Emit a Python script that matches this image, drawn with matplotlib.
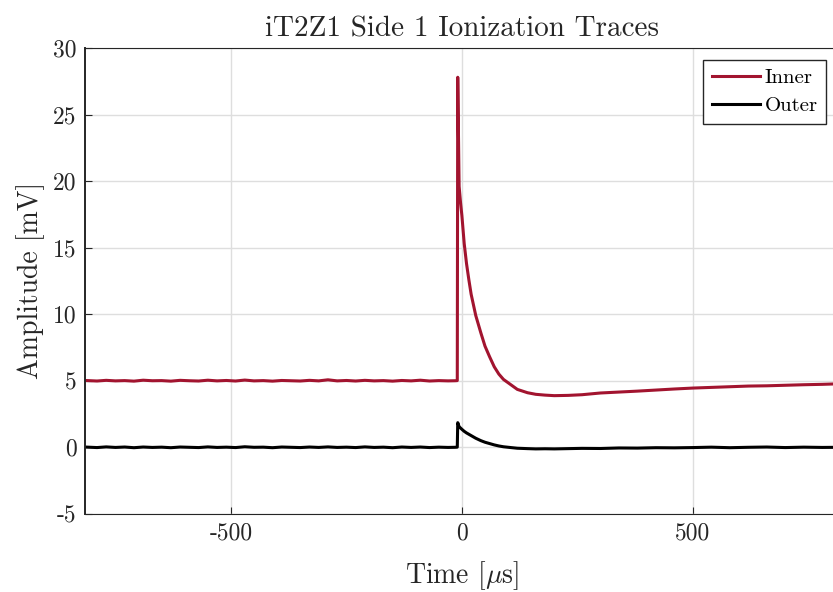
import matplotlib
matplotlib.use("Agg")
import matplotlib.pyplot as plt

plt.rcParams["font.family"] = "serif"
plt.rcParams["font.serif"] = ["cmr10"]
plt.rcParams["mathtext.fontset"] = "cm"
plt.rcParams["axes.unicode_minus"] = False

# === Trace data (time in us, amplitude in mV) ===
t = [-816, -790, -770, -750, -730, -710, -690, -670, -650, -630, -610, -590,
     -570, -550, -530, -510, -490, -470, -450, -430, -410, -390, -370, -350,
     -330, -310, -290, -270, -250, -230, -210, -190, -170, -150, -130, -110,
     -90, -70, -50, -30, -15, -10, -9, -6, -3, 0, 5, 10, 15, 20, 30, 41, 50,
     60, 70, 80, 90, 106, 120, 142, 160, 180, 200, 230, 260, 300, 340, 380,
     420, 460, 500, 540, 580, 620, 660, 700, 740, 780, 816]

inner = [5.02, 4.98, 5.03, 4.99, 5.01, 4.97, 5.04, 5.00, 5.01, 4.97, 5.03, 5.00,
         4.98, 5.04, 4.99, 5.02, 4.98, 5.05, 4.99, 5.01, 4.97, 5.02, 5.00, 4.98,
         5.03, 4.99, 5.07, 4.99, 5.02, 4.98, 5.03, 4.99, 5.01, 4.97, 5.02, 4.99,
         5.04, 4.98, 5.01, 4.99, 5.00, 5.01, 27.8, 19.6, 18.4, 17.4, 15.3, 13.8,
         12.6, 11.5, 9.9, 8.6, 7.6, 6.8, 6.05, 5.5, 5.1, 4.7, 4.35, 4.1, 3.98,
         3.92, 3.88, 3.90, 3.95, 4.08, 4.15, 4.22, 4.30, 4.38, 4.45, 4.50, 4.55,
         4.60, 4.62, 4.66, 4.70, 4.73, 4.77]

outer = [0.02, -0.02, 0.03, -0.01, 0.02, -0.03, 0.02, -0.01, 0.01, -0.03, 0.02, 0.00,
         -0.02, 0.03, -0.01, 0.01, -0.02, 0.04, 0.00, 0.01, -0.03, 0.02, 0.00, -0.02,
         0.02, -0.01, 0.03, -0.01, 0.01, -0.02, 0.03, -0.01, 0.01, -0.03, 0.02, -0.01,
         0.02, -0.02, 0.01, -0.01, 0.00, 0.01, 1.85, 1.55, 1.45, 1.35, 1.2, 1.08,
         0.98, 0.88, 0.68, 0.5, 0.38, 0.28, 0.18, 0.1, 0.04, -0.02, -0.07, -0.1,
         -0.12, -0.11, -0.12, -0.10, -0.08, -0.09, -0.05, -0.06, -0.03, -0.04,
         -0.02, 0.01, -0.03, 0.00, 0.02, -0.02, 0.01, -0.01, 0.00]

fig = plt.figure(figsize=(8.33, 5.92), dpi=100)
ax = fig.add_axes([0.102, 0.132, 0.905, 0.787])

ax.plot(t, inner, color="#A2142F", lw=2.2, label="Inner")
ax.plot(t, outer, color="black", lw=2.2, label="Outer")

ax.set_xlim(-816, 816)
ax.set_ylim(-5, 30)
ax.set_xticks([-500, 0, 500])
ax.set_yticks(range(-5, 31, 5))
ax.grid(True, color="#dedede", lw=1.0)
ax.set_axisbelow(True)
ax.tick_params(direction="in", length=5, labelsize=17, colors="#262626",
               top=False, right=False, pad=6)
for s in ax.spines.values():
    s.set_color("#262626")
ax.spines["left"].set_linewidth(1.4)

ax.set_title("iT2Z1 Side 1 Ionization Traces", fontsize=21, color="#262626", pad=8)
ax.set_xlabel(r"Time [$\mu$s]", fontsize=20, color="#262626", labelpad=11)
ax.set_ylabel("Amplitude [mV]", fontsize=20, color="#262626", labelpad=6)

leg = ax.legend(loc="upper right", fontsize=15, fancybox=False, framealpha=1,
                edgecolor="#262626", handlelength=2.3, handletextpad=0.25,
                borderpad=0.4, labelspacing=0.45, borderaxespad=0.6)
leg.get_frame().set_linewidth(1.0)

fig.savefig("out.png", dpi=100)
